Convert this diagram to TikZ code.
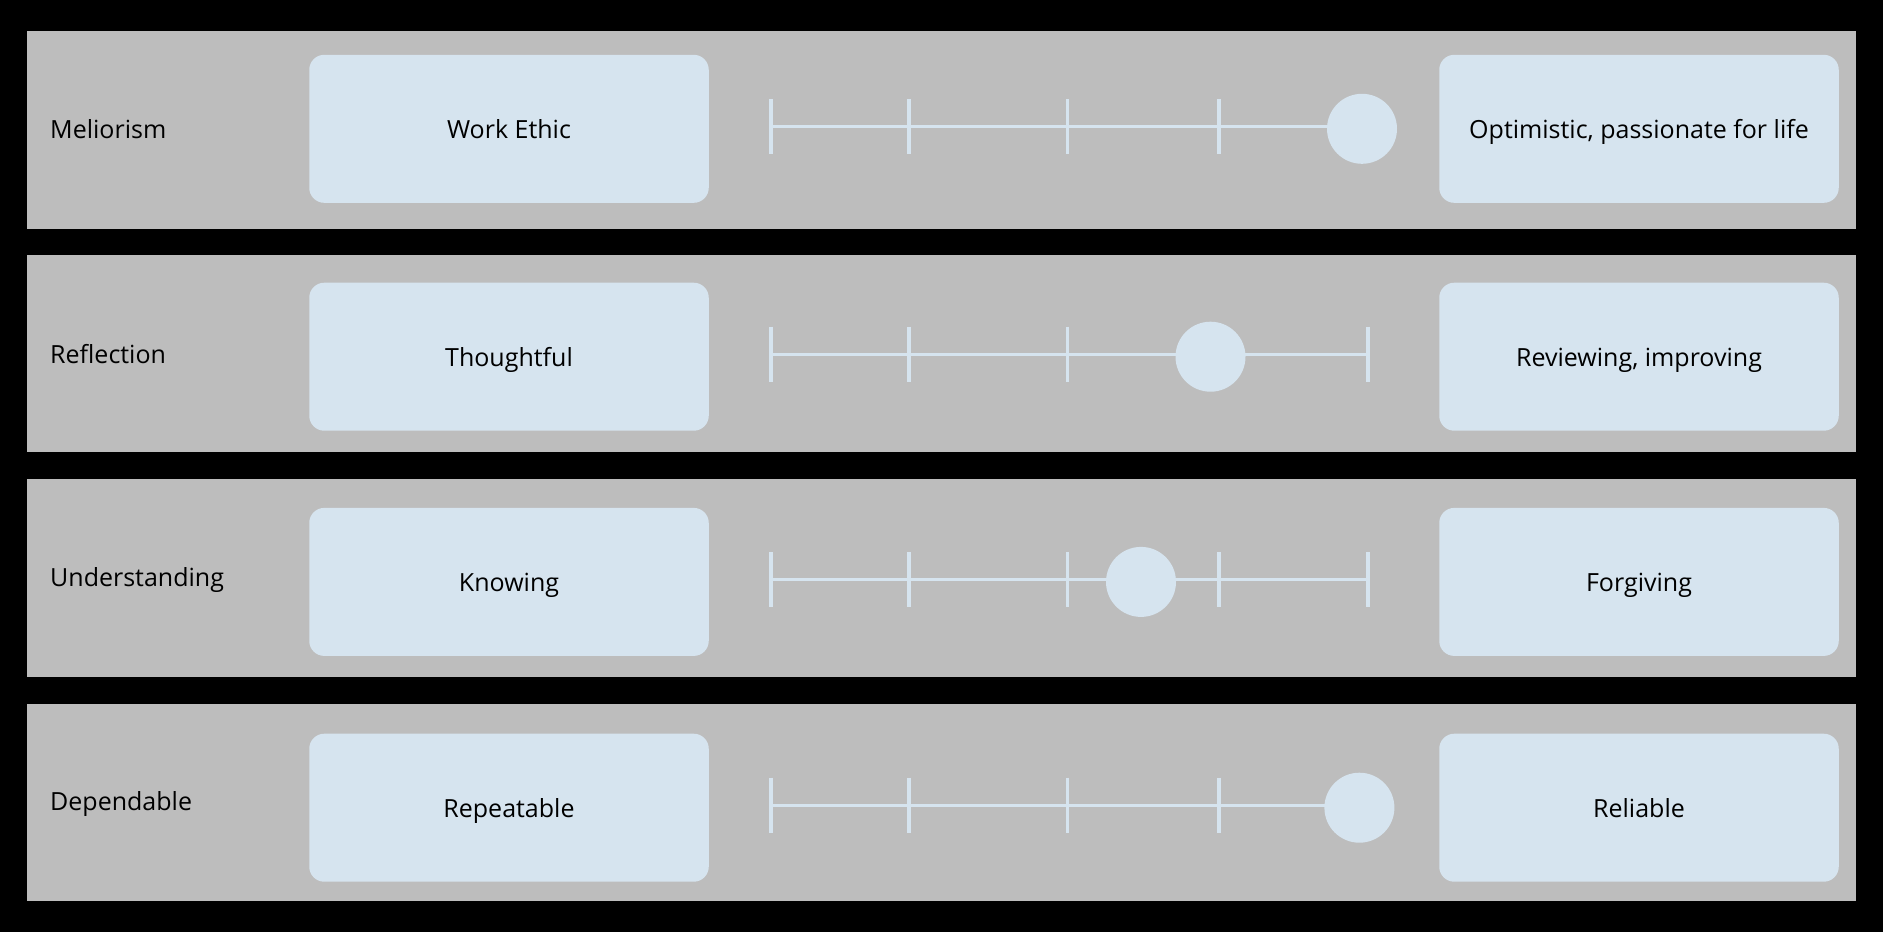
\documentclass[tikz,border=0pt]{standalone}
\usepackage{fontspec}
\setmainfont{Open Sans}
\definecolor{panelgray}{HTML}{BDBDBD}
\definecolor{boxblue}{HTML}{D6E4EF}
\begin{document}
\begin{tikzpicture}[x=1pt,y=-1pt,
  panel/.style={rectangle, fill=panelgray, draw=none, inner sep=0pt,
    minimum width=1829.2pt, minimum height=197.5pt, anchor=north west},
  pole/.style={rectangle, rounded corners=15pt, fill=boxblue, draw=none, inner sep=0pt,
    minimum width=399.5pt, minimum height=148pt,
    font=\fontsize{25}{30}\selectfont, text height=20pt, text depth=0pt},
  rowlabel/.style={anchor=west, inner sep=0pt,
    font=\fontsize{25}{30}\selectfont, text height=17.8pt, text depth=0pt},
  knob/.style={circle, fill=boxblue, draw=none, minimum size=70pt, inner sep=0pt},
  track/.style={draw=boxblue, line width=3.2pt},
  notch/.style={draw=boxblue, line width=3.5pt}]
\fill[black] (0,0) rectangle (1883,932);
\useasboundingbox (0,0) rectangle (1883,932);
\foreach \i/\pt/\cy/\ly/\lab/\lt/\rt/\kx in {
  1/31.2/128.8/129.4/Meliorism/Work Ethic/{Optimistic, passionate for life}/1362,
  2/254.6/356.7/354.3/Reflection/Thoughtful/{Reviewing, improving}/1210.5,
  3/479.2/581.9/577.6/Understanding/Knowing/Forgiving/1141,
  4/703.7/807.7/801.7/Dependable/Repeatable/Reliable/1359.4}
{
  \node[panel] (panel\i) at (26.5,\pt) {};
  \node[rowlabel] (label\i) at (50,\ly) {\lab};
  \node[pole] (left\i) at (509,\cy) {\lt};
  \node[pole] (right\i) at (1639,\cy) {\rt};
  \foreach \x [count=\j] in {771,909,1067.6,1219,1368} {
    \coordinate (t\i-\j) at (\x,{\cy-2.5});
    \draw[notch] (t\i-\j) ++(0,-27.5) -- ++(0,55);
  }
  \draw[track] (t\i-1) -- (t\i-5);
  \node[knob] (knob\i) at (\kx,\cy) {};
}
\end{tikzpicture}
\end{document}
